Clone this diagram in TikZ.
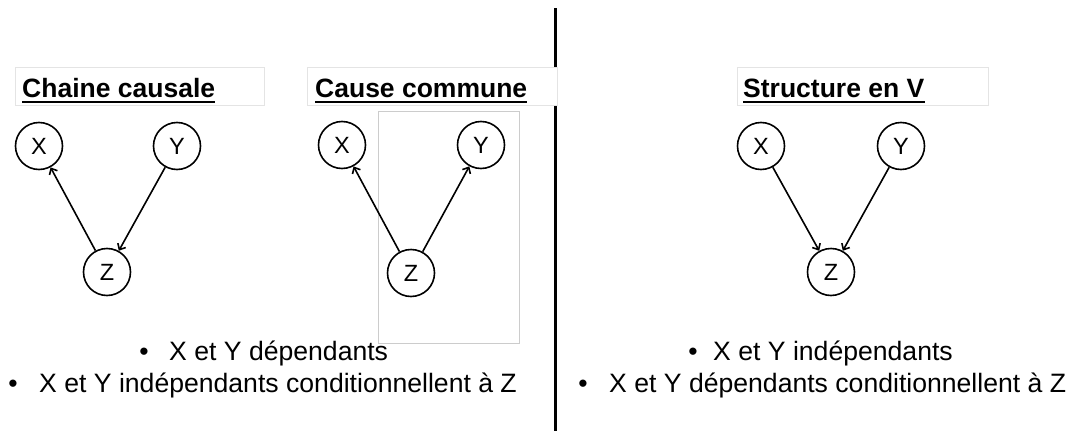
\documentclass[tikz,border=0pt]{standalone}
\usepackage{fontspec}
\setmainfont{Liberation Sans}
\usetikzlibrary{arrows.meta}
\definecolor{boxgray}{HTML}{E4E4E4}
\definecolor{rectgray}{HTML}{CCCCCC}
\begin{document}
\begin{tikzpicture}[x=1pt,y=-1pt,
  var/.style={circle,draw,line width=1.6pt,minimum size=47pt,inner sep=0pt,font=\fontsize{23.5}{23.5}\selectfont},
  edge/.style={line width=1.6pt,-{Straight Barb[length=5pt,width=9pt,line width=1.6pt]}},
  titlebox/.style={draw=boxgray,line width=0.8pt,fill=white},
  title/.style={anchor=base west,inner sep=0pt,font=\fontsize{26.5}{26.5}\selectfont\bfseries},
  uline/.style={line width=2pt},
  bodytext/.style={anchor=base west,inner sep=0pt,font=\fontsize{26.6}{26.6}\selectfont},
  bul/.style={anchor=base,inner sep=0pt,font=\fontsize{26.6}{26.6}\selectfont}]
\useasboundingbox[fill=white] (0,0) rectangle (1073,431);

% divider
\draw[line width=3pt] (555,8) -- (555,431);

% titles
\draw[titlebox] (15,67) rectangle (264,105);
\node[title] (t1) at (22,97) {Chaine causale};
\draw[uline] ([yshift=-5pt]t1.base west) -- ([yshift=-5pt]t1.base east);

\draw[titlebox] (307,67) rectangle (557,105);
\node[title] (t2) at (315,97) {Cause commune};
\draw[uline] ([yshift=-5pt]t2.base west) -- ([yshift=-5pt]t2.base east);

\draw[titlebox] (737,67) rectangle (988,105);
\node[title] (t3) at (743,97) {Structure en V};
\draw[uline] ([yshift=-5pt]t3.base west) -- ([yshift=-5pt]t3.base east);

% gray rectangle
\draw[rectgray,line width=1pt] (378,111) rectangle (519,343);

% chain
\node[var] (x1) at (39,146) {X};
\node[var] (y1) at (177,146) {Y};
\node[var] (z1) at (107,272) {Z};
\draw[edge] (z1) -- (x1);
\draw[edge] (y1) -- (z1);

% common cause
\node[var] (x2) at (342,145) {X};
\node[var] (y2) at (481,145) {Y};
\node[var] (z2) at (411,273) {Z};
\draw[edge] (z2) -- (x2);
\draw[edge] (z2) -- (y2);

% V structure
\node[var] (x3) at (761,146) {X};
\node[var] (y3) at (901,146) {Y};
\node[var] (z3) at (831,272) {Z};
\draw[edge] (x3) -- (z3);
\draw[edge] (y3) -- (z3);

% bullets left
\node[bul] (b1) at (144,360) {•};
\node[bodytext] (l1) at (169,360) {X et Y dépendants};
\node[bul] (b2) at (13,392) {•};
\node[bodytext] (l2) at (39,392) {X et Y indépendants conditionnellent à Z};

% bullets right
\node[bul] (b3) at (693,360) {•};
\node[bodytext] (r1) at (713,360) {X et Y indépendants};
\node[bul] (b4) at (583,392) {•};
\node[bodytext] (r2) at (609,392) {X et Y dépendants conditionnellent à Z};
\end{tikzpicture}
\end{document}
